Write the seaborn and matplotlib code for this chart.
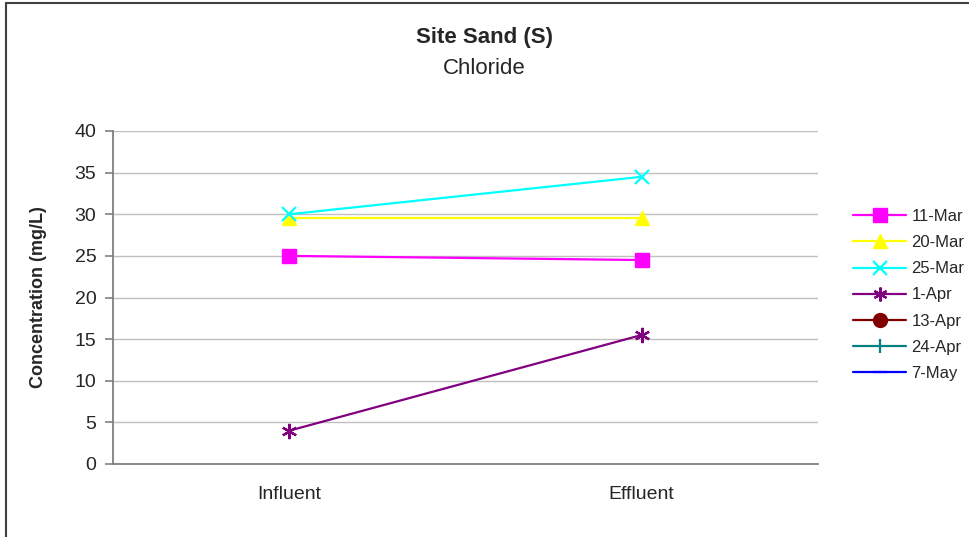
import numpy as np
import pandas as pd
import matplotlib.pyplot as plt
import seaborn as sns
from matplotlib.lines import Line2D
from matplotlib.patches import Rectangle

# data
stations = ["Influent", "Effluent"]
dates = ["11-Mar", "20-Mar", "25-Mar", "1-Apr", "13-Apr", "24-Apr", "7-May"]
mar11 = [25.0, 24.5]
mar20 = [29.5, 29.5]
mar25 = [30.0, 34.5]
apr1 = [4.0, 15.5]
apr13 = [np.nan, np.nan]
apr24 = [np.nan, np.nan]
may7 = [np.nan, np.nan]
yticks = [0, 5, 10, 15, 20, 25, 30, 35, 40]

colors = ["#FF00FF", "#FFFF00", "#00FFFF", "#800080", "#800000", "#008080", "#0000FF"]
markers = ["s", "^", "x", (6, 2, 0), "o", "|", "_"]

values = [mar11, mar20, mar25, apr1, apr13, apr24, may7]
df = pd.DataFrame({
    "Station": stations * len(dates),
    "Date": [d for d in dates for _ in stations],
    "Concentration": [v for vals in values for v in vals],
})
df["x"] = df["Station"].map({s: i for i, s in enumerate(stations)})

sns.set_style("white")
plt.rcParams["font.family"] = ["Liberation Sans", "DejaVu Sans"]

fig = plt.figure(figsize=(9.69, 5.37), dpi=100)
ax = fig.add_axes([113 / 969, 73 / 537, (818 - 113) / 969, (464 - 131) / 537])

line_art = ("x", (6, 2, 0), "|", "_")

# one line per sampling date; dates without data only show in the legend
for date, col, mk in zip(dates, colors, markers):
    sub = df[df["Date"] == date].dropna()
    if len(sub) == 0:
        continue
    sns.lineplot(data=sub, x="x", y="Concentration", ax=ax, color=col,
                 marker=mk, markersize=11 if mk == (6, 2, 0) else 10,
                 markeredgewidth=1.6 if mk in line_art else 1,
                 markeredgecolor=col, linewidth=1.6, legend=False, zorder=3)

ax.set_xlim(-0.5, 1.5)
ax.set_ylim(0, 40)
ax.set_yticks(yticks)
ax.set_yticklabels([str(t) for t in yticks], fontsize=14)
ax.set_xticks(range(len(stations)))
ax.set_xticklabels(stations, fontsize=14)
ax.set_xticks([-0.5, 0.5, 1.5], minor=True)
ax.tick_params(axis="x", which="major", length=0, pad=16)
ax.tick_params(axis="x", which="minor", length=6, color="#808080", width=1.2, direction="out")
ax.tick_params(axis="y", length=6, color="#808080", width=1.2, direction="out", pad=6, left=True)
ax.set_xlabel("")
ax.set_ylabel("Concentration (mg/L)", fontsize=13, fontweight="bold", labelpad=20)

ax.grid(axis="y", color="#C0C0C0", linewidth=1)
ax.set_axisbelow(True)
for side in ["top", "right"]:
    ax.spines[side].set_visible(False)
for side in ["left", "bottom"]:
    ax.spines[side].set_color("#808080")
    ax.spines[side].set_linewidth(1.3)

fig.text(0.5, 1 - 37 / 537, "Site Sand (S)", ha="center", va="center",
         fontsize=16, fontweight="bold")
fig.text(0.5, 1 - 69 / 537, "Chloride", ha="center", va="center", fontsize=16)

handles = []
for date, col, mk in zip(dates, colors, markers):
    handles.append(Line2D([0], [0], color=col, marker=mk, markersize=10,
                          markeredgecolor=col, linewidth=1.6,
                          markeredgewidth=1.6 if mk in line_art else 1,
                          label=date))
fig.legend(handles=handles, loc="upper left", bbox_to_anchor=(853 / 969, 1 - 209 / 537),
           frameon=False, fontsize=12, handlelength=3.2, handletextpad=0.3,
           labelspacing=0.67, borderaxespad=0, borderpad=0)

# outer chart border (right and bottom edges run off the image)
fig.patches.append(Rectangle((6 / 969, -0.1), 1.2, 1.1 - 3 / 537, transform=fig.transFigure,
                             fill=False, edgecolor="#404040", linewidth=1.5))

plt.savefig("out.png", dpi=100)
